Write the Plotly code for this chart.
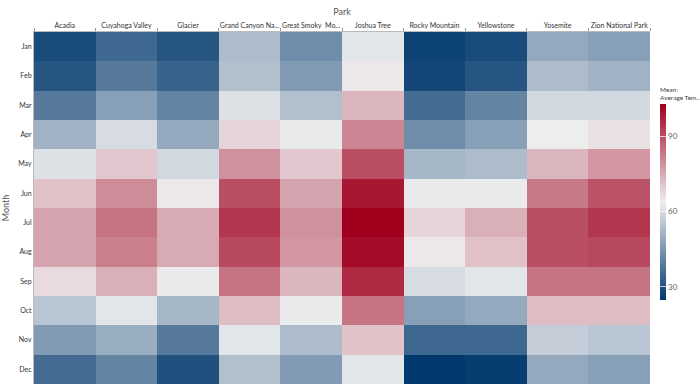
import plotly.graph_objects as go

parks = ["Acadia", "Cuyahoga Valley", "Glacier", "Grand Canyon National Park",
         "Great Smoky Mountains", "Joshua Tree", "Rocky Mountain", "Yellowstone",
         "Yosemite", "Zion National Park"]
park_labels = ["Acadia", "Cuyahoga Valley", "Glacier", "Grand Canyon Na...",
               "Great Smoky  Mo...", "Joshua Tree", "Rocky Mountain", "Yellowstone",
               "Yosemite", "Zion National Park"]
months = ["Jan", "Feb", "Mar", "Apr", "May", "Jun", "Jul", "Aug", "Sep", "Oct", "Nov", "Dec"]
colorbar_title = "Mean:<br>Average Tem..."
colorbar_ticks = [30, 60, 90]

acadia = [29, 31, 39, 51, 61, 71, 76, 76, 67, 55, 46, 36]
cuyahoga = [35, 39, 47, 60, 70, 80, 84, 82, 74, 62, 50, 41]
glacier = [31, 34, 41, 49, 59, 65, 75, 75, 63, 52, 39, 30]
grand_canyon = [53, 54, 61, 68, 79, 90, 94, 91, 84, 72, 62, 54]
great_smoky = [43, 46, 54, 63, 70, 76, 79, 78, 73, 63, 53, 46]
joshua_tree = [62, 65, 73, 81, 90, 99, 103, 101, 96, 84, 71, 62]
rocky_mountain = [27, 28, 36, 43, 52, 63, 68, 65, 60, 47, 35, 25]
yellowstone = [29, 31, 41, 47, 53, 63, 74, 71, 62, 49, 35, 26]
yosemite = [49, 53, 59, 64, 73, 83, 90, 90, 84, 72, 57, 49]
zion = [47, 51, 59, 66, 78, 89, 94, 91, 84, 72, 55, 47]

series = [acadia, cuyahoga, glacier, grand_canyon, great_smoky, joshua_tree,
          rocky_mountain, yellowstone, yosemite, zion]
z = [[s[i] for s in series] for i in range(len(months))]

FONT = "Lato, Open Sans, sans-serif"
PLOT_L, PLOT_W, PLOT_T, PLOT_H = 34, 616, 32, 352

fig = go.Figure(go.Heatmap(
    z=z, x=parks, y=months,
    zmin=24.8, zmax=102.8,
    colorscale=[[0, "#00386d"], [0.5, "#eeeeef"], [1, "#a0001e"]],
    colorbar=dict(
        thickness=6, len=196 / PLOT_H, lenmode="fraction",
        x=(660 - PLOT_L) / PLOT_W, xanchor="left", xpad=0,
        y=(PLOT_T + PLOT_H - 104) / PLOT_H, yanchor="top", ypad=0,
        outlinewidth=0, tickvals=colorbar_ticks, ticks="inside", ticklen=6,
        tickcolor="rgba(255,255,255,0.7)",
        tickfont=dict(size=8, color="#666", family=FONT),
    ),
))

fig.add_annotation(
    text=colorbar_title, xref="paper", yref="paper",
    x=(659 - PLOT_L) / PLOT_W, y=(PLOT_T + PLOT_H - 85) / PLOT_H,
    xanchor="left", yanchor="top", showarrow=False, align="left",
    borderpad=0, font=dict(size=6.5, color="#444", family=FONT),
)

fig.update_layout(
    width=700, height=392,
    margin=dict(l=PLOT_L, r=700 - PLOT_L - PLOT_W, t=PLOT_T, b=392 - PLOT_T - PLOT_H,
                autoexpand=False),
    paper_bgcolor="white", plot_bgcolor="white",
    font=dict(family=FONT, size=8, color="#333"),
    xaxis=dict(side="top", tickmode="array", tickvals=parks, ticktext=park_labels,
               tickangle=0, automargin=False,
               tickfont=dict(size=7, color="#333"), ticks="outside", ticklen=3,
               tickson="boundaries", tickcolor="#999", showline=True,
               linecolor="#bbb", linewidth=1,
               title=dict(text="Park", font=dict(size=9, color="#555"), standoff=4),
               showgrid=False, zeroline=False),
    yaxis=dict(autorange="reversed", automargin=False,
               tickfont=dict(size=7, color="#333"),
               showline=True, linecolor="#bbb", linewidth=1, ticks="",
               title=dict(text="Month", font=dict(size=9, color="#555"), standoff=8),
               showgrid=False, zeroline=False),
)

fig.write_html("out.html", config={"displayModeBar": False},
               post_script="document.body.style.margin='0';document.body.style.overflow='hidden';")
